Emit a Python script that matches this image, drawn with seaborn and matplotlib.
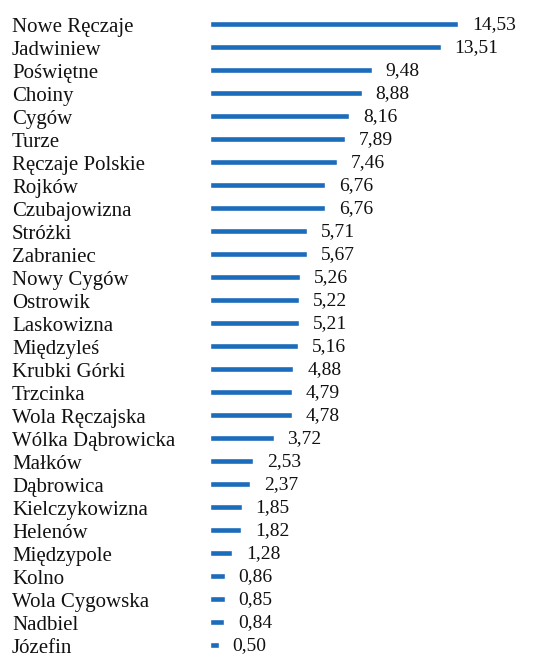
import matplotlib
matplotlib.use("Agg")
import matplotlib.pyplot as plt
import matplotlib.transforms as mtransforms
import pandas as pd
import seaborn as sns

places = [
    "Nowe Ręczaje", "Jadwiniew", "Poświętne", "Choiny", "Cygów", "Turze",
    "Ręczaje Polskie", "Rojków", "Czubajowizna", "Stróżki", "Zabraniec",
    "Nowy Cygów", "Ostrowik", "Laskowizna", "Międzyleś", "Krubki Górki",
    "Trzcinka", "Wola Ręczajska", "Wólka Dąbrowicka", "Małków", "Dąbrowica",
    "Kielczykowizna", "Helenów", "Międzypole", "Kolno", "Wola Cygowska",
    "Nadbiel", "Józefin",
]
values = [
    14.53, 13.51, 9.48, 8.88, 8.16, 7.89, 7.46, 6.76, 6.76, 5.71, 5.67,
    5.26, 5.22, 5.21, 5.16, 4.88, 4.79, 4.78, 3.72, 2.53, 2.37, 1.85,
    1.82, 1.28, 0.86, 0.85, 0.84, 0.50,
]

df = pd.DataFrame({"place": places, "value": values})

sns.set_theme(style="white")
plt.rcParams["font.family"] = ["Liberation Serif", "DejaVu Serif"]

fig = plt.figure(figsize=(5.58, 6.57), dpi=100)
ax = fig.add_axes([210 / 558, 0, 348 / 558, 1])

sns.barplot(data=df, x="value", y="place", orient="h", color="#1c6cbc",
            saturation=1, width=0.28, ax=ax)

ax.set_xlim(0, 348 / 17.07)
ax.set_ylim(27.52, -1.04)
ax.axis("off")

# place names, left-aligned in figure coordinates, sitting a bit below the bars
trans = mtransforms.blended_transform_factory(fig.transFigure, ax.transData)
for i, name in enumerate(places):
    ax.text(12 / 558, i + 0.33, name, transform=trans, ha="left",
            va="baseline", fontsize=15, color="#111111", clip_on=False)

# values next to bar ends, with comma decimals
for i, v in enumerate(values):
    ax.annotate(f"{v:.2f}".replace(".", ","), xy=(v, i + 0.24), xytext=(10, 0),
                textcoords="offset points", ha="left", va="baseline",
                fontsize=14, color="#111111", annotation_clip=False)

fig.savefig("out.png", dpi=100)
